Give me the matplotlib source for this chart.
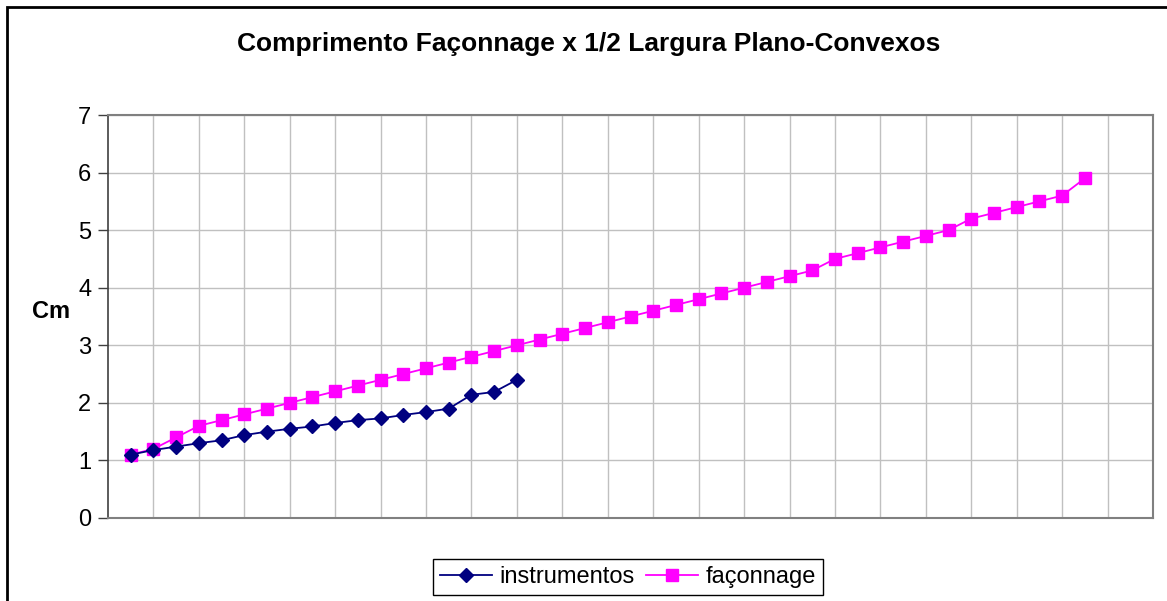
from matplotlib import pyplot as plt
from matplotlib.patches import Rectangle
import numpy as np

plt.rcParams.update({"font.family": ["Liberation Sans", "DejaVu Sans"], "font.size": 15})

faconnage = [
    1.1, 1.2, 1.4, 1.6, 1.7, 1.8, 1.9, 2.0, 2.1, 2.2,
    2.3, 2.4, 2.5, 2.6, 2.7, 2.8, 2.9, 3.0, 3.1, 3.2,
    3.3, 3.4, 3.5, 3.6, 3.7, 3.8, 3.9, 4.0, 4.1, 4.2,
    4.3, 4.5, 4.6, 4.7, 4.8, 4.9, 5.0, 5.2, 5.3, 5.4,
    5.5, 5.6, 5.9,
]
instrumentos = [
    1.1, 1.18, 1.24, 1.3, 1.35, 1.44, 1.5, 1.55, 1.59, 1.65,
    1.7, 1.73, 1.79, 1.84, 1.9, 2.14, 2.19, 2.4,
]
y_ticks = [0, 1, 2, 3, 4, 5, 6, 7]
n_categories = 46

W, H = 1167, 601
fig = plt.figure(figsize=(W / 100, H / 100), dpi=100)
ax = fig.add_axes([108 / W, 1 - 518 / H, (1153 - 108) / W, (518 - 115) / H])

x_fac = np.arange(1, len(faconnage) + 1)
x_ins = np.arange(1, len(instrumentos) + 1)

ax.plot(x_ins, instrumentos, color="#000080", marker="D", markersize=7,
        linewidth=1.3, label="instrumentos", zorder=3)
ax.plot(x_fac, faconnage, color="#FF00FF", marker="s", markersize=8,
        linewidth=1.3, label="façonnage", zorder=2)

ax.set_xlim(0, n_categories)
ax.set_ylim(0, 7)
ax.set_yticks(y_ticks)
ax.set_xticks(np.arange(2, n_categories, 2))
ax.tick_params(axis="x", length=0, labelbottom=False)
ax.tick_params(axis="y", length=7, width=1, color="#404040", pad=5, labelsize=17)
ax.grid(True, color="#c0c0c0", linewidth=1)
ax.set_axisbelow(True)

for side in ["top", "right", "bottom"]:
    ax.spines[side].set_color("#808080")
    ax.spines[side].set_linewidth(1.5)
ax.spines["left"].set_color("#404040")
ax.spines["left"].set_linewidth(1.2)

fig.text(51 / W, 1 - 312 / H, "Cm", fontsize=17, fontweight="bold",
         ha="center", va="center")
fig.text(589 / W, 1 - 44 / H, "Comprimento Façonnage x 1/2 Largura Plano-Convexos",
         fontsize=19, fontweight="bold", ha="center", va="center")

leg = fig.legend(loc="center", bbox_to_anchor=(628 / W, 1 - 577 / H), ncol=2,
                 fancybox=False, framealpha=1, edgecolor="black", fontsize=17,
                 handlelength=2.2, handletextpad=0.3, columnspacing=0.5,
                 borderpad=0.3, borderaxespad=0)
leg.get_frame().set_linewidth(1)

# outer chart border (right and bottom fall outside the picture)
fig.patches.append(Rectangle((7 / W, -0.1), 1.2, 1 - 7 / H + 0.1,
                             transform=fig.transFigure, fill=False,
                             edgecolor="black", linewidth=2))

fig.savefig("out.png", dpi=100)
